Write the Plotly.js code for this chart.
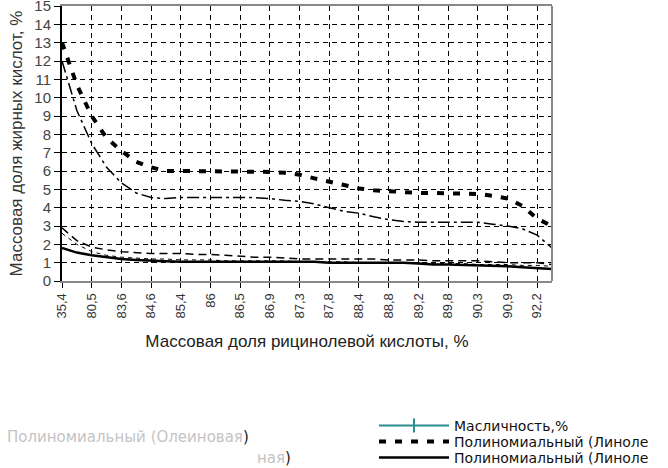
<!DOCTYPE html>
<html>
<head>
<meta charset="utf-8">
<script src="https://cdn.plot.ly/plotly-3.0.1.min.js"></script>
<style>
  html, body { margin: 0; padding: 0; background: #fff; }
  #chart { width: 668px; height: 468px; }
</style>
</head>
<body>
<div id="chart"></div>
<script>
// category labels (every second category carries a label)
const labels = ['35,4', '80,5', '83,6', '84,6', '85,4', '86', '86,5', '86,9', '87,3',
                '87,8', '88,4', '88,8', '89,2', '89,8', '90,3', '90,9', '92,2'];
const nPoints = 34;

// trend lines
const linoleic = [13.0, 10.7, 9.0, 7.8, 7.1, 6.5, 6.2, 6.0, 6.0, 6.0, 6.0, 6.0, 6.0, 6.0,
                  5.95, 5.9, 5.8, 5.6, 5.4, 5.2, 5.05, 4.95, 4.9, 4.8, 4.8, 4.8, 4.8, 4.8,
                  4.75, 4.65, 4.5, 4.1, 3.4, 3.0];
const series2 = [12.0, 9.3, 7.5, 6.2, 5.35, 4.8, 4.55, 4.5, 4.55, 4.55, 4.55, 4.55, 4.55, 4.55,
                 4.5, 4.4, 4.35, 4.2, 4.0, 3.8, 3.7, 3.5, 3.35, 3.25, 3.2, 3.2, 3.2, 3.2,
                 3.2, 3.1, 3.0, 2.85, 2.5, 1.8];
const series3 = [2.9, 2.2, 1.85, 1.7, 1.6, 1.55, 1.5, 1.5, 1.5, 1.45, 1.45, 1.4, 1.35, 1.3,
                 1.3, 1.25, 1.2, 1.2, 1.2, 1.2, 1.2, 1.2, 1.15, 1.15, 1.15, 1.1, 1.1, 1.1,
                 1.1, 1.05, 1.0, 1.0, 1.0, 0.9];
const series4 = [2.6, 2.0, 1.6, 1.4, 1.3, 1.25, 1.2, 1.2, 1.15, 1.15, 1.15, 1.1, 1.1, 1.1,
                 1.1, 1.1, 1.05, 1.05, 1.05, 1.05, 1.0, 1.0, 1.0, 1.0, 1.0, 0.95, 0.95, 0.95,
                 0.9, 0.9, 0.9, 0.85, 0.85, 0.8];
const linolenic = [1.8, 1.55, 1.4, 1.28, 1.2, 1.15, 1.1, 1.08, 1.05, 1.05, 1.05, 1.05, 1.05, 1.05,
                   1.05, 1.05, 1.05, 1.05, 1.0, 1.0, 1.0, 1.0, 1.0, 1.0, 0.95, 0.9, 0.9, 0.88,
                   0.85, 0.82, 0.8, 0.75, 0.72, 0.65];

// legend texts as far as they are visible
const legendNames = ['Масличность,%', 'Полиномиальный (Линоле', 'Полиномиальный (Линоле'];

const xs = Array.from({ length: nPoints }, (_, i) => i);
const tickvals = labels.map((_, i) => i * 2);

const traces = [
  {
    // oil content lies above the plotted range; only its legend entry shows
    x: [0], y: [null], type: 'scatter', mode: 'lines+markers', name: legendNames[0],
    legend: 'legend',
    line: { color: '#2a8c8c', width: 2 },
    marker: { symbol: 'line-ns-open', size: 10, line: { color: '#2a8c8c', width: 2 } }
  },
  {
    x: xs, y: linoleic, type: 'scatter', mode: 'lines', name: legendNames[1],
    legend: 'legend2',
    line: { color: '#000', width: 4, dash: '7px,9px' }
  },
  {
    x: xs, y: series2, type: 'scatter', mode: 'lines', showlegend: false,
    line: { color: '#000', width: 1.5, dash: '12px,4px,3px,4px' }
  },
  {
    x: xs, y: series3, type: 'scatter', mode: 'lines', showlegend: false,
    line: { color: '#000', width: 1.5, dash: '8px,5px' }
  },
  {
    x: xs, y: series4, type: 'scatter', mode: 'lines', showlegend: false,
    line: { color: '#000', width: 1, dash: '4px,4px' }
  },
  {
    x: xs, y: linolenic, type: 'scatter', mode: 'lines', name: legendNames[2],
    legend: 'legend3',
    line: { color: '#000', width: 2.5 }
  }
];

const legendFont = { family: 'DejaVu Sans, sans-serif', size: 14, color: '#111' };
function legendAt(rowY) {
  return {
    x: (374 - 62) / 490, xanchor: 'left',
    y: (281 - rowY) / 275, yanchor: 'middle',
    bgcolor: 'rgba(0,0,0,0)',
    itemwidth: 70,
    font: legendFont
  };
}

const layout = {
  width: 668,
  height: 468,
  margin: { l: 62, r: 116, t: 6, b: 187, autoexpand: false },
  paper_bgcolor: '#fff',
  plot_bgcolor: '#fff',
  font: { family: 'Liberation Sans, Arial, sans-serif', color: '#333' },
  xaxis: {
    range: [0, nPoints - 1],
    tickvals: tickvals,
    ticktext: labels,
    tickangle: -90,
    tickfont: { size: 13, color: '#333' },
    ticks: 'outside', ticklen: 5, tickcolor: '#000',
    showgrid: true, gridcolor: '#000', gridwidth: 1, griddash: '5px,4px',
    zeroline: false,
    showline: true, linecolor: '#888', linewidth: 2, mirror: true,
    title: { text: 'Массовая доля рицинолевой кислоты, %', font: { size: 17, color: '#222' }, standoff: 18 }
  },
  yaxis: {
    range: [0, 15],
    dtick: 1,
    tickfont: { size: 15, color: '#444' },
    ticklabeloverflow: 'allow',
    ticks: 'outside', ticklen: 6, tickcolor: '#000',
    showgrid: true, gridcolor: '#000', gridwidth: 1, griddash: '5px,4px',
    zeroline: false,
    showline: true, linecolor: '#000', linewidth: 2,
    title: { text: 'Массовая доля жирных кислот, %', font: { size: 17, color: '#333' }, standoff: 7 }
  },
  shapes: [
    { type: 'line', xref: 'paper', yref: 'paper', x0: 1, x1: 1, y0: 0, y1: 1,
      line: { color: '#888', width: 2 } }
  ],
  legend: legendAt(426),
  legend2: legendAt(442),
  legend3: legendAt(458),
  annotations: [
    { xref: 'paper', yref: 'paper', x: -57 / 490, y: (281 - 437) / 275,
      xanchor: 'left', yanchor: 'middle', showarrow: false,
      text: '<span style="color:#c4c4c4">Полиномиальный (Олеиновая</span>)',
      font: { family: 'DejaVu Sans, sans-serif', size: 15, color: '#222' } },
    { xref: 'paper', yref: 'paper', x: (255 - 62) / 490, y: (281 - 458) / 275,
      xanchor: 'left', yanchor: 'middle', showarrow: false,
      text: '<span style="color:#c4c4c4">ная</span>)',
      font: { family: 'DejaVu Sans, sans-serif', size: 15, color: '#222' } }
  ],
  showlegend: true
};

Plotly.newPlot('chart', traces, layout, { displayModeBar: false, staticPlot: true });
</script>
</body>
</html>
